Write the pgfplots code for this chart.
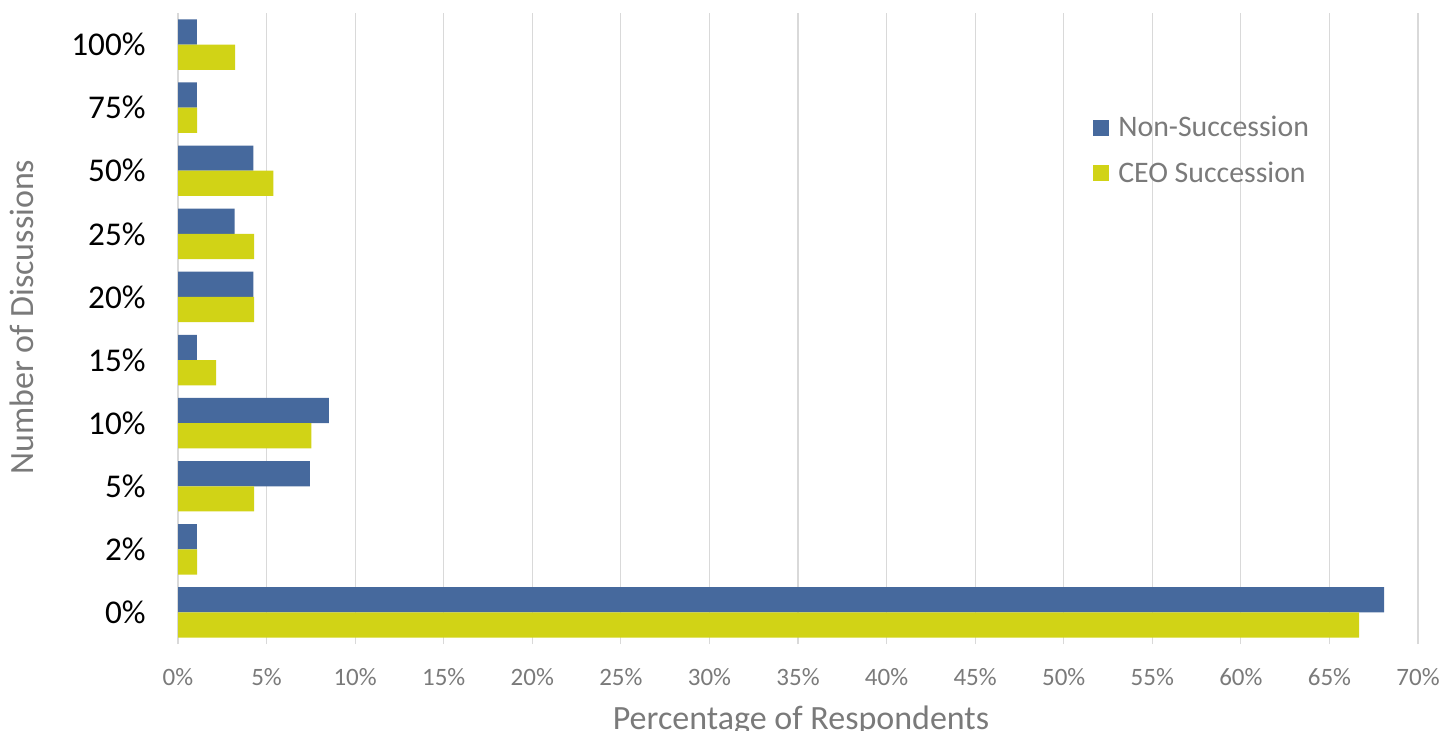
\documentclass[border=0pt]{standalone}
\usepackage{pgfplots}
\pgfplotsset{compat=1.18}
\usepackage{fontspec}
\setmainfont{Carlito}
\definecolor{nsblue}{HTML}{46699D}
\definecolor{ceoyel}{HTML}{D1D316}
\definecolor{txtgray}{HTML}{7A7A7A}
\definecolor{gridgray}{HTML}{D9D9D9}
\begin{document}
\begin{tikzpicture}
\begin{axis}[
  name=ax,
  scale only axis,
  width=620pt, height=315.5pt,
  xmin=0, xmax=70,
  ymin=-0.5, ymax=9.5,
  axis line style={draw=none},
  major tick length=0pt,
  xmajorgrids,
  grid style={gridgray, line width=0.6pt},
  xtick={0,5,10,15,20,25,30,35,40,45,50,55,60,65,70},
  xticklabels={0\%,5\%,10\%,15\%,20\%,25\%,30\%,35\%,40\%,45\%,50\%,55\%,60\%,65\%,70\%},
  ytick={0,1,2,3,4,5,6,7,8,9},
  yticklabels={0\%,2\%,5\%,10\%,15\%,20\%,25\%,50\%,75\%,100\%},
  xticklabel style={font=\fontsize{12.5}{14}\selectfont, color=txtgray, inner sep=0pt, yshift=-12pt},
  yticklabel style={font=\fontsize{16.6}{19}\selectfont, color=black, inner sep=0pt, xshift=-16pt},
  xbar, bar width=0.4,
  xlabel={Percentage of Respondents},
  xlabel style={font=\fontsize{17}{20}\selectfont, color=txtgray, at={(axis description cs:0.5024,-0.1347)}, anchor=base, inner sep=0pt},
  ylabel={Number of Discussions},
  ylabel style={font=\fontsize{17}{20}\selectfont, color=txtgray, at={(axis description cs:-0.1169,0.518)}, anchor=base, rotate=0, inner sep=0pt},
  legend style={at={(0.733,0.85)}, anchor=north west, draw=none, fill=none,
    font=\fontsize{14.9}{17}\selectfont, text=txtgray, row sep=7pt,
    legend cell align=left},
  legend image code/.code={\fill[#1] (0pt,-4pt) rectangle (8pt,4pt); \path (10.5pt,0pt);},
]
\addplot[fill=nsblue, draw=none, bar shift=0.2] coordinates {
  (68.09,0) (1.06,1) (7.45,2) (8.51,3) (1.06,4) (4.26,5) (3.19,6) (4.26,7) (1.06,8) (1.06,9)};
\addlegendentry{Non-Succession}
\addplot[fill=ceoyel, draw=none, bar shift=-0.2] coordinates {
  (66.67,0) (1.08,1) (4.30,2) (7.53,3) (2.15,4) (4.30,5) (4.30,6) (5.38,7) (1.08,8) (3.23,9)};
\addlegendentry{CEO Succession}
\end{axis}
\pgfresetboundingbox
\path ([xshift=-89pt,yshift=-43pt]ax.south west) rectangle ([xshift=12.5pt,yshift=6.5pt]ax.north east);
\end{tikzpicture}
\end{document}
